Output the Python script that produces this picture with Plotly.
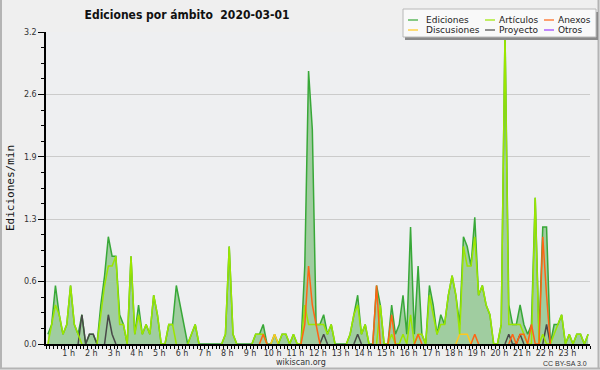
import plotly.graph_objects as go

# ---------------- data (edits per minute, 10-minute bins) ----------------
hour_labels = [f"{h} h" for h in range(1, 24)]
hour_ticks = list(range(1, 24))
y_tick_vals = [0, 0.64, 1.28, 1.92, 2.56, 3.2]
y_tick_text = ["0.0", "0.6", "1.3", "1.9", "2.6", "3.2"]

ediciones = [
    0.1, 0.2, 0.6, 0.3, 0.1, 0.2, 0.6, 0.2, 0.1, 0.3, 0.0, 0.1,
    0.1, 0.0, 0.4, 0.7, 1.1, 0.9, 0.9, 0.3, 0.2, 0.0, 0.9, 0.1,
    0.4, 0.1, 0.2, 0.1, 0.5, 0.3, 0.0, 0.0, 0.2, 0.2, 0.6, 0.4,
    0.2, 0.0, 0.1, 0.2, 0.0, 0.0, 0.0, 0.0, 0.0, 0.0, 0.0, 0.1,
    1.0, 0.1, 0.0, 0.0, 0.0, 0.0, 0.0, 0.1, 0.1, 0.2, 0.0, 0.0,
    0.1, 0.0, 0.1, 0.1, 0.0, 0.1, 0.0, 0.0, 0.8, 2.8, 2.2, 0.2,
    0.2, 0.3, 0.1, 0.2, 0.0, 0.0, 0.0, 0.0, 0.1, 0.3, 0.5, 0.1,
    0.2, 0.0, 0.0, 0.6, 0.4, 0.0, 0.0, 0.4, 0.1, 0.2, 0.5, 0.1,
    1.2, 0.1, 0.8, 0.1, 0.0, 0.6, 0.4, 0.1, 0.3, 0.2, 0.5, 0.7,
    0.5, 0.2, 1.1, 1.0, 0.8, 1.3, 0.5, 0.6, 0.4, 0.3, 0.0, 0.0,
    0.2, 3.2, 0.4, 0.2, 0.2, 0.4, 0.2, 0.1, 0.2, 1.5, 0.1, 1.2,
    1.2, 0.0, 0.2, 0.2, 0.3, 0.0, 0.1, 0.0, 0.1, 0.1, 0.0, 0.1,
]
articulos = [
    0.0, 0.2, 0.4, 0.3, 0.1, 0.2, 0.6, 0.2, 0.1, 0.0, 0.0, 0.0,
    0.0, 0.0, 0.3, 0.6, 0.8, 0.8, 0.9, 0.2, 0.2, 0.0, 0.9, 0.1,
    0.3, 0.1, 0.2, 0.1, 0.5, 0.3, 0.0, 0.0, 0.2, 0.2, 0.0, 0.0,
    0.0, 0.0, 0.1, 0.2, 0.0, 0.0, 0.0, 0.0, 0.0, 0.0, 0.0, 0.1,
    1.0, 0.1, 0.0, 0.0, 0.0, 0.0, 0.0, 0.1, 0.1, 0.1, 0.0, 0.0,
    0.0, 0.0, 0.1, 0.1, 0.0, 0.1, 0.0, 0.0, 0.4, 0.2, 0.2, 0.2,
    0.2, 0.2, 0.1, 0.2, 0.0, 0.0, 0.0, 0.0, 0.1, 0.3, 0.4, 0.1,
    0.2, 0.0, 0.0, 0.0, 0.4, 0.0, 0.0, 0.1, 0.0, 0.0, 0.1, 0.0,
    0.3, 0.0, 0.1, 0.1, 0.0, 0.5, 0.3, 0.1, 0.2, 0.2, 0.5, 0.7,
    0.5, 0.1, 1.0, 0.8, 0.8, 1.1, 0.5, 0.6, 0.4, 0.3, 0.0, 0.0,
    0.2, 3.2, 0.2, 0.2, 0.2, 0.2, 0.1, 0.0, 0.0, 1.5, 0.0, 0.1,
    0.0, 0.0, 0.1, 0.2, 0.3, 0.0, 0.1, 0.0, 0.1, 0.1, 0.0, 0.1,
]
anexos = [0.0] * 144
for i, v in {57: 0.1, 68: 0.2, 69: 0.8, 70: 0.4, 71: 0.2, 87: 0.6, 91: 0.3,
             98: 0.1, 113: 0.1, 123: 0.1, 125: 0.1, 126: 0.1, 128: 0.2,
             131: 1.1, 132: 0.5}.items():
    anexos[i] = v
discusiones = [0.0] * 144
for i, v in {60: 0.1, 109: 0.1, 110: 0.1, 111: 0.1}.items():
    discusiones[i] = v
proyecto = [0.0] * 144
for i, v in {9: 0.3, 11: 0.1, 12: 0.1, 16: 0.3, 17: 0.1, 73: 0.1, 82: 0.1,
             122: 0.1, 125: 0.1, 132: 0.2}.items():
    proyecto[i] = v
otros = [0.0] * 144

x_hours = [(i + 0.5) / 6 for i in range(144)]

series = [
    ("Ediciones", ediciones, "#38a838"),
    ("Artículos", articulos, "#9be600"),
    ("Anexos", anexos, "#ff6414"),
    ("Discusiones", discusiones, "#ffc81e"),
    ("Proyecto", proyecto, "#484848"),
    ("Otros", otros, "#9a3cff"),
]


def hide_flat_zero(vals):
    """Zero runs lie on the baseline (hidden by the axis in the original)."""
    out = []
    n = len(vals)
    for i, v in enumerate(vals):
        left = vals[i - 1] if i > 0 else 0
        right = vals[i + 1] if i < n - 1 else 0
        out.append(v if (v or left or right) else None)
    return out


# ---------------- geometry helpers ----------------
W, H = 600, 370
ML, MR, MT, MB = 46, 10, 32, 26
PW, PH = W - ML - MR, H - MT - MB


def px(xp):
    return (xp - ML) / PW


def py(yp):
    return (H - MB - yp) / PH


fig = go.Figure()

# Ediciones filled area
fig.add_trace(go.Scatter(
    x=x_hours, y=ediciones, mode="lines", name="Ediciones",
    line=dict(color="#38a838", width=1.5), fill="tozeroy",
    fillcolor="#a0cda0", showlegend=False, hoverinfo="skip"))
# Other namespaces in drawing order (bottom to top)
for name, vals, col in [series[5], series[4], series[3], series[1], series[2]]:
    fig.add_trace(go.Scatter(
        x=x_hours, y=hide_flat_zero(vals), mode="lines", name=name,
        connectgaps=False,
        line=dict(color=col, width=1.5), showlegend=False, hoverinfo="skip"))

fig.update_layout(
    width=W, height=H,
    margin=dict(l=ML, r=MR, t=MT, b=MB, pad=0, autoexpand=False),
    paper_bgcolor="#efefef", plot_bgcolor="#eeeff1",
    font=dict(family="DejaVu Sans", size=8, color="#333333"),
    title=dict(text="<b>Ediciones por ámbito  2020-03-01</b>",
               x=187 / W, xanchor="center", y=1 - 15 / H, yanchor="middle",
               font=dict(family="DejaVu Sans Condensed, Liberation Sans", size=12, color="#111111")),
    xaxis=dict(range=[0, 24], tickvals=hour_ticks, ticktext=hour_labels,
               automargin=False,
               showgrid=False, zeroline=False, showline=True, linecolor="#000000",
               linewidth=2, ticks="outside", ticklen=3, tickcolor="#000000",
               tickwidth=1, tickfont=dict(size=8, color="#333333"),
               ticklabelstandoff=-3,
               minor=dict(dtick=1 / 6, tick0=0, ticks="outside", ticklen=3,
                          tickcolor="#000000", tickwidth=1, showgrid=False),
               fixedrange=True),
    yaxis=dict(range=[0, 3.2], tickvals=y_tick_vals, ticktext=y_tick_text,
               automargin=False,
               showgrid=True, gridcolor="#cbcbcb", gridwidth=1, zeroline=False,
               showline=True, linecolor="#000000", linewidth=1.5,
               ticks="outside", ticklen=6, tickcolor="#000000", tickwidth=1,
               tickfont=dict(size=8, color="#333333"),
               minor=dict(dtick=0.16, tick0=0, ticks="outside", ticklen=3,
                          tickcolor="#000000", tickwidth=1, showgrid=False),
               title=dict(text="Ediciones/min", standoff=7,
                          font=dict(family="DejaVu Sans Mono", size=11, color="#111111")),
               fixedrange=True),
    showlegend=False,
)

shapes = []
annotations = []

# outer frame (left, right, bottom)
for (x0, y0, x1, y1) in [(1, 0, 1, 369), (598.5, 0, 598.5, 369), (0, 368.5, 600, 368.5)]:
    shapes.append(dict(type="line", xref="paper", yref="paper",
                       x0=px(x0), y0=py(y0), x1=px(x1), y1=py(y1),
                       line=dict(color="#b4b4b4", width=2), layer="above"))

# legend box with shadow
LX0, LY0, LX1, LY1 = 403, 9, 596, 37
shapes.append(dict(type="rect", xref="paper", yref="paper",
                   x0=px(LX0 + 2), y0=py(LY1 + 3), x1=px(LX1 + 2), y1=py(LY0 + 3),
                   line=dict(width=0), fillcolor="#8a8a8a", layer="above"))
shapes.append(dict(type="rect", xref="paper", yref="paper",
                   x0=px(LX0), y0=py(LY1), x1=px(LX1), y1=py(LY0),
                   line=dict(color="#b8b8b8", width=1), fillcolor="#f9f9f9", layer="above"))

legend_layout = [
    ("Ediciones", 408, 424, 20), ("Artículos", 485, 497, 20), ("Anexos", 544, 556, 20),
    ("Discusiones", 408, 424, 30), ("Proyecto", 485, 497, 30), ("Otros", 544, 556, 30),
]
color_of = {n: c for n, _, c in series}
for name, sx, tx, yy in legend_layout:
    shapes.append(dict(type="line", xref="paper", yref="paper",
                       x0=px(sx), x1=px(sx + 10), y0=py(yy), y1=py(yy),
                       line=dict(color=color_of[name], width=1.2), layer="above"))
    annotations.append(dict(text=name, xref="paper", yref="paper", x=px(tx), y=py(yy),
                            xanchor="left", yanchor="middle", showarrow=False,
                            font=dict(family="DejaVu Sans", size=9, color="#222222")))

annotations.append(dict(text="wikiscan.org", xref="paper", yref="paper",
                        x=px(301), y=py(362), xanchor="center", yanchor="middle",
                        showarrow=False, font=dict(family="DejaVu Sans", size=8, color="#333333")))
annotations.append(dict(text="CC BY-SA 3.0", xref="paper", yref="paper",
                        x=px(589), y=py(363), xanchor="right", yanchor="middle",
                        showarrow=False, font=dict(family="Liberation Sans", size=7, color="#333333")))

fig.update_layout(shapes=shapes, annotations=annotations)

fig.write_html("out.html", config={"displayModeBar": False},
               post_script="document.body.style.margin='0';")
